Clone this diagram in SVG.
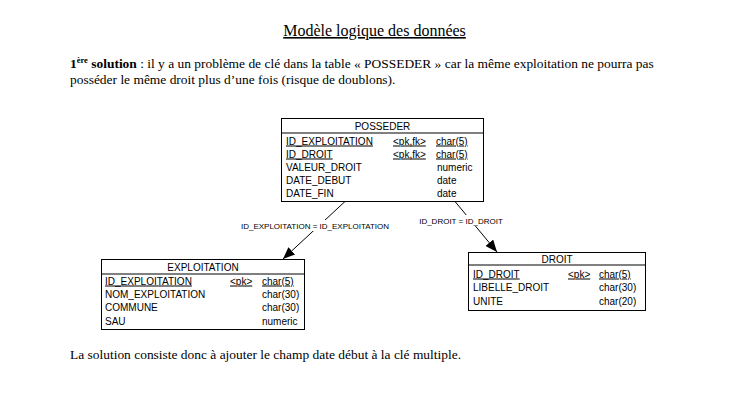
<svg xmlns="http://www.w3.org/2000/svg" width="732" height="402" viewBox="0 0 732 402">
<defs>
<marker id="arr" viewBox="0 0 12 10" refX="12" refY="5" markerWidth="12" markerHeight="10" markerUnits="userSpaceOnUse" orient="auto">
<path d="M0,0 L12,5 L0,10 z" fill="#000"/>
</marker>
</defs>
<style>
.doc{font-family:"Liberation Serif","Times New Roman",serif;font-size:13.45px;fill:#000}
.t{font-family:"Liberation Sans",Arial,sans-serif;font-size:10px;fill:#000}
.hd{text-anchor:middle}
.u{text-decoration:underline}
.box{fill:#fff;stroke:#000;stroke-width:1}
.lbl{font-family:"Liberation Sans",Arial,sans-serif;font-size:8px;fill:#000;text-anchor:middle}
.ln{stroke:#000;stroke-width:1;fill:none}
</style>
<rect width="732" height="402" fill="#fff"/>
<text class="doc u" x="374.5" y="36" text-anchor="middle" style="font-size:16px">Modèle logique des données</text>
<text class="doc" x="70" y="68"><tspan font-weight="bold">1</tspan><tspan font-weight="bold" font-size="8.5" dy="-5">ère</tspan><tspan font-weight="bold" dy="5"> solution</tspan> : il y a un problème de clé dans la table « POSSEDER » car la même exploitation ne pourra pas</text>
<text class="doc" x="70" y="84">posséder le même droit plus d’une fois (risque de doublons).</text>
<text class="doc" x="70" y="359">La solution consiste donc à ajouter le champ date début à la clé multiple.</text>

<g id="connectors">
<line class="ln" x1="345" y1="201.5" x2="283" y2="259" marker-end="url(#arr)"/>
<line class="ln" x1="455" y1="201.5" x2="497" y2="252" marker-end="url(#arr)"/>
<rect x="238" y="220" width="155" height="11" fill="#fff"/>
<text class="lbl" x="315" y="229">ID_EXPLOITATION = ID_EXPLOITATION</text>
<rect x="418" y="215" width="88" height="11" fill="#fff"/>
<text class="lbl" x="461" y="224">ID_DROIT = ID_DROIT</text>
</g>

<g id="posseder">
<rect class="box" x="281.5" y="118.5" width="202" height="83"/>
<line class="ln" x1="281.5" y1="133" x2="483.5" y2="133"/>
<text class="t hd" x="382.5" y="129.5">POSSEDER</text>
<text class="t u" x="286" y="144.5">ID_EXPLOITATION</text>
<text class="t u" x="393" y="144.5">&lt;pk,fk&gt;</text>
<text class="t u" x="436" y="144.5">char(5)</text>
<text class="t u" x="286" y="157.5">ID_DROIT</text>
<text class="t u" x="393" y="157.5">&lt;pk,fk&gt;</text>
<text class="t u" x="436" y="157.5">char(5)</text>
<text class="t" x="286" y="170.5">VALEUR_DROIT</text>
<text class="t" x="437" y="170.5">numeric</text>
<text class="t" x="286" y="183.5">DATE_DEBUT</text>
<text class="t" x="437" y="183.5">date</text>
<text class="t" x="286" y="196.5">DATE_FIN</text>
<text class="t" x="437" y="196.5">date</text>
</g>

<g id="exploitation">
<rect class="box" x="101.5" y="259.5" width="203" height="70"/>
<line class="ln" x1="101.5" y1="274" x2="304.5" y2="274"/>
<text class="t hd" x="203" y="270.5">EXPLOITATION</text>
<text class="t u" x="105" y="284.5">ID_EXPLOITATION</text>
<text class="t u" x="230" y="284.5">&lt;pk&gt;</text>
<text class="t u" x="262" y="284.5">char(5)</text>
<text class="t" x="105" y="298">NOM_EXPLOITATION</text>
<text class="t" x="262" y="298">char(30)</text>
<text class="t" x="105" y="311">COMMUNE</text>
<text class="t" x="262" y="311">char(30)</text>
<text class="t" x="105" y="324.5">SAU</text>
<text class="t" x="262" y="324.5">numeric</text>
</g>

<g id="droit">
<rect class="box" x="468.5" y="252.5" width="177" height="58"/>
<line class="ln" x1="468.5" y1="265" x2="645.5" y2="265"/>
<text class="t hd" x="557" y="262.5">DROIT</text>
<text class="t u" x="473" y="277.5">ID_DROIT</text>
<text class="t u" x="568" y="277.5">&lt;pk&gt;</text>
<text class="t u" x="599" y="277.5">char(5)</text>
<text class="t" x="473" y="291">LIBELLE_DROIT</text>
<text class="t" x="599" y="291">char(30)</text>
<text class="t" x="473" y="304.5">UNITE</text>
<text class="t" x="599" y="304.5">char(20)</text>
</g>
</svg>
